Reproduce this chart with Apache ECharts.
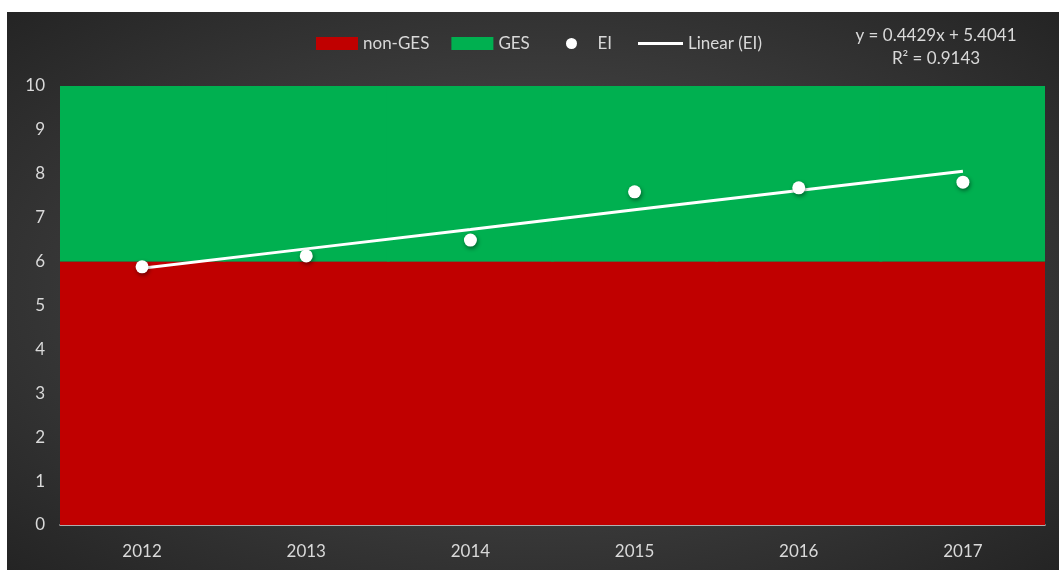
<!DOCTYPE html>
<html>

<head>
    <meta charset="utf-8" />
    <script src="https://cdn.jsdelivr.net/npm/echarts@6/dist/echarts.min.js"></script>
    <style>
        body { margin: 0; background: #fff; }
        #main {
            position: absolute; left: 7px; top: 12px; width: 1052px; height: 558px;
            background: radial-gradient(ellipse at 50% 50%, #5c5c5c 0%, #3a3a3a 55%, #242424 100%);
        }
    </style>
</head>

<body>
    <div id="main"></div>
    <script type="text/javascript">
        const years = ['2012', '2013', '2014', '2015', '2016', '2017'];
        const nonGes = [6, 6, 6, 6, 6, 6];
        const ges = [4, 4, 4, 4, 4, 4];
        const ei = [5.88, 6.13, 6.49, 7.59, 7.68, 7.81];
        const linearEi = [5.85, 6.29, 6.73, 7.18, 7.62, 8.06];
        const equation = ['y = 0.4429x + 5.4041', 'R\u00b2 = 0.9143'];

        const font = 'Lato, "Open Sans", sans-serif';
        const textColor = '#d9d9d9';

        const myChart = echarts.init(document.getElementById('main'));
        myChart.setOption({
            backgroundColor: 'transparent',
            animation: false,
            textStyle: { fontFamily: font },
            grid: { left: 53, right: 14, top: 74, bottom: 45 },
            legend: [{
                left: 309, top: 23, padding: 0, itemWidth: 42, itemHeight: 13, itemGap: 22,
                icon: 'rect',
                textStyle: { color: textColor, fontSize: 17, fontFamily: font },
                data: ['non-GES', 'GES']
            }, {
                left: 559, top: 23, padding: 0, itemWidth: 30, itemHeight: 11,
                icon: 'circle',
                textStyle: { color: textColor, fontSize: 17, fontFamily: font, padding: [0, 0, 0, 6] },
                data: ['EI']
            }, {
                left: 631, top: 23, padding: 0, itemWidth: 45, itemHeight: 3,
                icon: 'rect',
                textStyle: { color: textColor, fontSize: 17, fontFamily: font },
                data: ['Linear (EI)']
            }],
            graphic: equation.map((t, i) => ({
                type: 'text',
                x: 929,
                y: 24 + i * 23,
                style: {
                    text: t,
                    fill: textColor, font: '17px ' + font,
                    textAlign: 'center', textVerticalAlign: 'middle'
                }
            })),
            xAxis: {
                type: 'category',
                data: years,
                axisLine: { lineStyle: { color: '#d9d9d9', width: 1.5 } },
                axisTick: { show: false },
                axisLabel: { color: textColor, fontSize: 17, margin: 18 }
            },
            yAxis: {
                type: 'value',
                min: 0, max: 10, interval: 1,
                splitLine: { show: false },
                axisLine: { show: false },
                axisTick: { show: false },
                axisLabel: { color: textColor, fontSize: 17, margin: 15 }
            },
            series: [{
                name: 'non-GES', type: 'bar', stack: 'zone',
                barWidth: 167,
                itemStyle: { color: '#c00000' },
                data: nonGes
            }, {
                name: 'GES', type: 'bar', stack: 'zone',
                barWidth: 167,
                itemStyle: { color: '#00b050' },
                data: ges
            }, {
                name: 'Linear (EI)', type: 'line',
                showSymbol: false, symbol: 'none',
                lineStyle: { color: '#ffffff', width: 3 },
                itemStyle: { color: '#ffffff' },
                z: 3,
                data: linearEi
            }, {
                name: 'EI', type: 'scatter',
                symbolSize: 13,
                itemStyle: {
                    color: '#ffffff', opacity: 1,
                    shadowColor: 'rgba(0,0,0,0.45)', shadowBlur: 4, shadowOffsetX: 1, shadowOffsetY: 2
                },
                z: 4,
                data: ei
            }]
        });
    </script>
</body>

</html>
